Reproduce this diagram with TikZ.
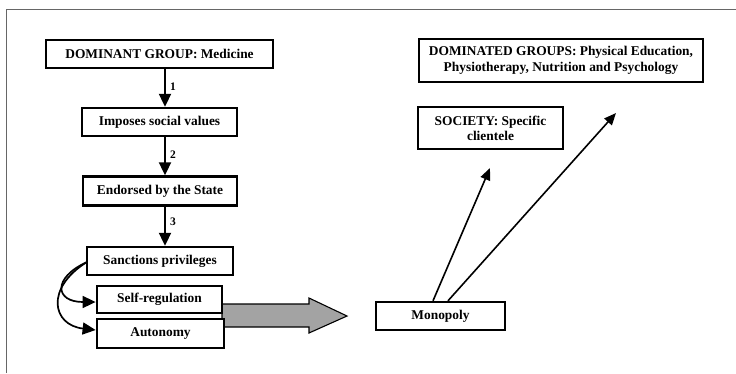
\documentclass[tikz,border=0pt]{standalone}
\usepackage{fontspec}
\setmainfont{Liberation Serif}
\usetikzlibrary{arrows.meta}
\begin{document}
\begin{tikzpicture}[x=1pt,y=-1pt,
  box/.style={draw, line width=2.8pt, fill=white, inner sep=1pt, align=center,
    font=\bfseries\fontsize{13.4}{15}\selectfont},
  thinbox/.style={box, line width=2.4pt},
  conn/.style={line width=2pt, -{Triangle[length=13pt,width=12pt]}},
  diag/.style={line width=1.6pt, -{Triangle[length=12pt,width=10pt]}},
  num/.style={font=\bfseries\fontsize{11.5}{12}\selectfont, inner sep=0pt}]
\useasboundingbox (0,0) rectangle (736,373);
\draw[line width=1pt, black!60] (6,373) -- (6,9) -- (736,9);

\node[box, minimum width=227pt, minimum height=28pt] (dom) at (159.5,54) {DOMINANT GROUP: Medicine};
\node[thinbox, minimum width=155pt, minimum height=28pt] (imp) at (159.5,122) {Imposes social values};
\node[thinbox, minimum width=154pt, minimum height=29pt] (end) at (160,191) {Endorsed by the State};
\node[thinbox, minimum width=146pt, minimum height=28pt] (san) at (160,261) {Sanctions privileges};

% grey block arrow (drawn before boxes so they overlap it)
\draw[line width=1.1pt, fill=black!36] (222,304) -- (309,304) -- (309,298) -- (347,316)
  -- (309,333) -- (309,327) -- (222,327) -- cycle;

\node[box, minimum width=125pt, minimum height=27pt] (self) at (159.5,299.5) {Self-regulation};
\node[box, minimum width=127pt, minimum height=29pt] (aut) at (160.5,333.5) {Autonomy};

\node[thinbox, minimum width=129pt, minimum height=28pt] (mono) at (440.5,316) {Monopoly};
\node[box, minimum width=284pt, minimum height=43pt,
  font=\bfseries\fontsize{13.4}{16}\selectfont] (dgs) at (561,60.5)
  {DOMINATED GROUPS: Physical Education,\\Physiotherapy, Nutrition and Psychology};
\node[thinbox, minimum width=145pt, minimum height=42pt] (soc) at (490.5,128)
  {SOCIETY: Specific\\clientele};

\coordinate (ax) at (165,0);
\draw[conn] (dom.south -| ax) -- (imp.north -| ax);
\draw[conn] (imp.south -| ax) -- (end.north -| ax);
\draw[conn] (end.south -| ax) -- (san.north -| ax);
\node[num] (n1) at (173,87) {1};
\node[num] (n2) at (173,155) {2};
\node[num] (n3) at (173,222) {3};

\coordinate (cs) at (87,262);
\draw[conn, line width=1.7pt] (cs) .. controls (52,278) and (55,302) .. (self.west |- 0,302);
\draw[conn, line width=1.7pt] (cs) .. controls (45,288) and (52,325) .. (aut.west |- 0,330);

\coordinate (t1) at (490,168);
\coordinate (t2) at (616,113);
\draw[diag] (mono.north -| 433,0) -- (t1);
\draw[diag] (mono.north -| 448,0) -- (t2);
\end{tikzpicture}
\end{document}
